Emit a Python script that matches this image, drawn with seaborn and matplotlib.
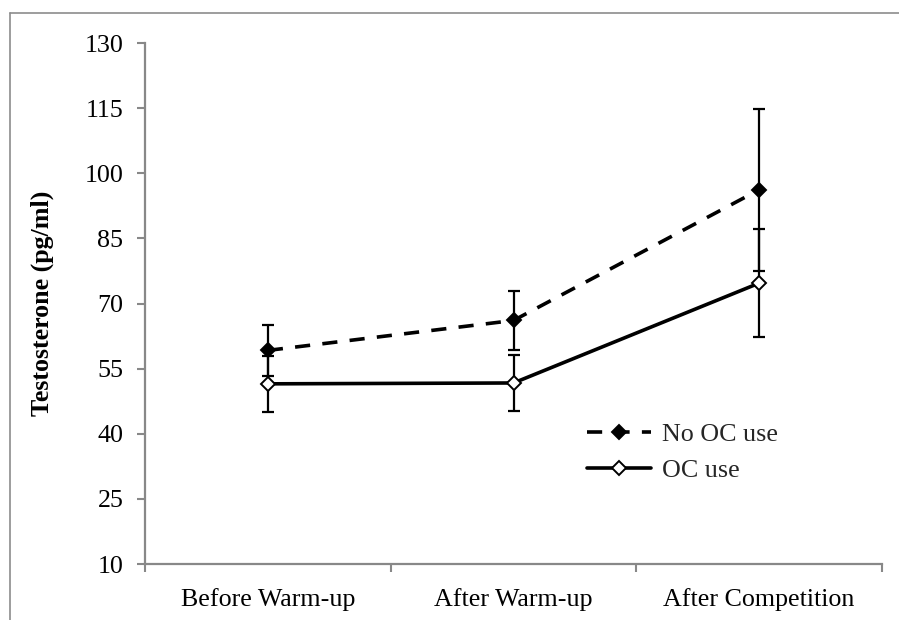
import matplotlib
matplotlib.use("Agg")
import matplotlib.pyplot as plt
import numpy as np
import pandas as pd
import seaborn as sns
from matplotlib.lines import Line2D

# Mean testosterone (pg/ml) and error (±) at each sampling time
stages = ["Before Warm-up", "After Warm-up", "After Competition"]
no_oc_mean = [59.2, 66.1, 96.2]
no_oc_err = [5.9, 6.8, 18.6]
oc_mean = [51.5, 51.7, 74.7]
oc_err = [6.4, 6.4, 12.5]
y_ticks = [10, 25, 40, 55, 70, 85, 100, 115, 130]

sns.set_theme(style="white")
plt.rcParams["font.family"] = ["Liberation Serif", "DejaVu Serif"]

AXIS_GRAY = "#888888"
FS = 18.7

fig = plt.figure(figsize=(8.99, 6.2), dpi=100)
ax = fig.add_axes([0.1613, 0.0903, 0.8198, 0.8403])

pos = np.arange(len(stages))
df = pd.DataFrame({"pos": pos, "no_oc": no_oc_mean, "oc": oc_mean})

# error bars first so the markers sit on top
ax.errorbar(pos, no_oc_mean, yerr=no_oc_err, fmt="none", ecolor="black",
            elinewidth=1.6, capsize=4.3, capthick=1.6, zorder=2)
ax.errorbar(pos, oc_mean, yerr=oc_err, fmt="none", ecolor="black",
            elinewidth=1.6, capsize=4.3, capthick=1.6, zorder=2)

sns.lineplot(data=df, x="pos", y="no_oc", ax=ax, color="black",
             linestyle=(0, (4.2, 3.4)), linewidth=2.6, marker="D",
             markersize=7.5, markerfacecolor="black", markeredgecolor="black",
             markeredgewidth=1.4, label="No OC use", zorder=3)
sns.lineplot(data=df, x="pos", y="oc", ax=ax, color="black",
             linestyle="-", linewidth=2.6, marker="D",
             markersize=7.5, markerfacecolor="white", markeredgecolor="black",
             markeredgewidth=1.4, label="OC use", zorder=3)

ax.set_xlim(-0.5, len(stages) - 0.5)
ax.set_ylim(y_ticks[0], y_ticks[-1])
ax.set_yticks(y_ticks)
ax.set_xticks(pos)
ax.set_xticklabels(stages)
ax.set_xticks(np.arange(len(stages) + 1) - 0.5, minor=True)

ax.tick_params(axis="x", which="major", length=0, pad=17, labelsize=FS,
               labelcolor="black")
ax.tick_params(axis="x", which="minor", bottom=True, length=5.5, width=1.5,
               color=AXIS_GRAY, direction="out")
ax.tick_params(axis="y", which="major", left=True, length=5.5, width=1.5,
               color=AXIS_GRAY, direction="out", pad=10, labelsize=FS,
               labelcolor="black")

for side in ("top", "right"):
    ax.spines[side].set_visible(False)
for side in ("left", "bottom"):
    ax.spines[side].set_color(AXIS_GRAY)
    ax.spines[side].set_linewidth(1.6)

ax.set_xlabel("")
ax.set_ylabel("Testosterone (pg/ml)", fontsize=FS, fontweight="bold",
              labelpad=22, color="black")
ax.grid(False)

handles, labels = ax.get_legend_handles_labels()
ax.legend(handles, labels, loc="center left", bbox_to_anchor=(0.585, 0.214),
          frameon=False, fontsize=FS, handlelength=2.5, handletextpad=0.4,
          labelspacing=0.5, borderaxespad=0, borderpad=0.4)

# thin frame around the figure (left and top edges)
fig.add_artist(Line2D([9.5 / 899, 9.5 / 899], [0, 1 - 13 / 620],
                      transform=fig.transFigure, color="#8c8c8c", lw=1.2))
fig.add_artist(Line2D([9.5 / 899, 1], [1 - 13 / 620, 1 - 13 / 620],
                      transform=fig.transFigure, color="#8c8c8c", lw=1.2))

fig.savefig("out.png", dpi=100, facecolor="white")
